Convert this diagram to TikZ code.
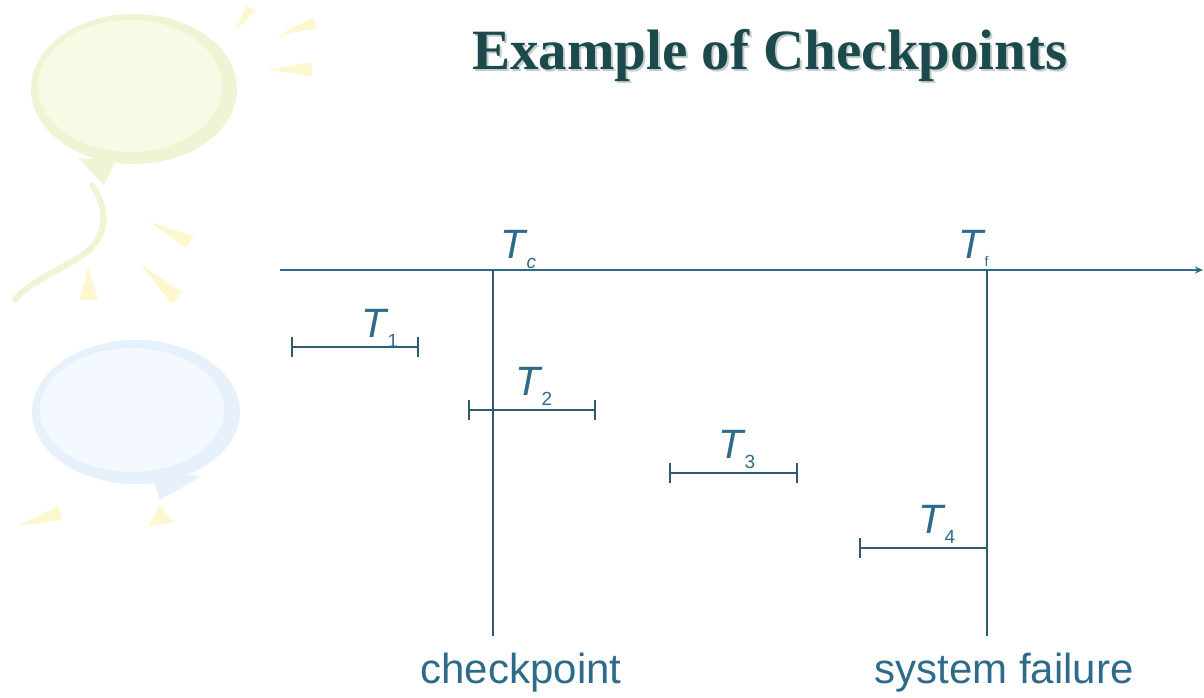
\documentclass[tikz,border=0pt]{standalone}
\usepackage{fontspec}
\setmainfont{Liberation Sans}
\newfontfamily\titlefont{Liberation Serif}
\usetikzlibrary{arrows.meta}

\definecolor{inkblue}{HTML}{2E6B8A}
\definecolor{barink}{HTML}{2C5C6E}
\definecolor{titleink}{HTML}{1C4A4C}
\definecolor{titleshade}{HTML}{C4CECE}
\definecolor{greenfill}{HTML}{F6FBE6}
\definecolor{greenrim}{HTML}{EDF5D4}
\definecolor{bluefill}{HTML}{F3F9FE}
\definecolor{bluerim}{HTML}{E7F1FB}
\definecolor{rayyellow}{HTML}{FCF7CE}

% italic T with a lowered upright index
\newcommand{\tlabel}[1]{\textit{T}\kern-1pt\raisebox{-10pt}{\fontsize{19}{19}\selectfont #1}}

\tikzset{
  axisline/.style={draw=inkblue, line width=1.7pt},
  markline/.style={draw=barink, line width=1.3pt},
  spanbar/.style={draw=barink, line width=1.3pt},
  spantick/.style={draw=barink, line width=1.3pt},
  tname/.style={text=inkblue, font=\fontsize{41}{41}\selectfont, inner sep=0pt, anchor=base west},
  bottomlabel/.style={text=inkblue, font=\fontsize{42}{42}\selectfont, inner sep=0pt, anchor=base},
  ray/.style={fill=rayyellow},
}

\begin{document}
\begin{tikzpicture}[x=1pt, y=-1pt]
\useasboundingbox (0,0) rectangle (1204,698);

% --- faint balloon decoration on the left ---
\fill[greenrim] (134,89) ellipse [x radius=103, y radius=75];
\fill[greenfill] (130,86) ellipse [x radius=92, y radius=66];
\fill[greenrim] (78,158) -- (116,160) -- (104,185) -- cycle;
\draw[greenrim, line width=6pt, line cap=round]
  (92,185) .. controls (110,212) and (108,240) .. (78,258)
           .. controls (50,275) and (25,285) .. (15,300);
\fill[bluerim] (136,412) ellipse [x radius=104, y radius=72];
\fill[bluefill] (132,410) ellipse [x radius=92, y radius=62];
\fill[bluerim] (150,470) -- (202,476) -- (160,500) -- cycle;

\fill[ray] (236,30) -- (246,6) -- (256,10) -- cycle;
\fill[ray] (278,36) -- (312,18) -- (318,28) -- cycle;
\fill[ray] (268,70) -- (312,62) -- (312,76) -- cycle;
\fill[ray] (150,222) -- (194,236) -- (186,248) -- cycle;
\fill[ray] (80,300) -- (88,266) -- (98,300) -- cycle;
\fill[ray] (140,264) -- (182,292) -- (172,304) -- cycle;
\fill[ray] (18,526) -- (58,506) -- (62,520) -- cycle;
\fill[ray] (148,526) -- (160,506) -- (174,522) -- cycle;

% --- title with its drop shade ---
\node[text=titleshade, font=\titlefont\bfseries\fontsize{57}{57}\selectfont, inner sep=0pt, anchor=base]
  (titleshadow) at (772,72) {Example of Checkpoints};
\node[text=titleink, font=\titlefont\bfseries\fontsize{57}{57}\selectfont, inner sep=0pt, anchor=base]
  (title) at (770,70) {Example of Checkpoints};

% --- time axis ---
\coordinate (axisstart) at (280,270);
\coordinate (axisend) at (1203,270);
\draw[axisline, -{Stealth[length=8pt, width=7pt]}] (axisstart) -- (axisend);

% --- checkpoint and failure instants ---
\coordinate (tctop) at (493,270);
\coordinate (tcbottom) at (493,636);
\coordinate (tftop) at (987,270);
\coordinate (tfbottom) at (987,636);
\draw[markline] (tctop) -- (tcbottom);
\draw[markline] (tftop) -- (tfbottom);

\node[tname] (tc) at (500,258) {\tlabel{\textit{c}}};
\node[tname] (tf) at (958,258) {\textit{T}\kern-1pt\raisebox{-8pt}{\fontsize{14}{14}\selectfont f}};

\node[bottomlabel] (cplabel) at (521,683) {checkpoint};
\node[bottomlabel] (sflabel) at (1004,683) {system failure};

% --- transactions ---
\coordinate (t1a) at (292,347);  \coordinate (t1b) at (418,347);
\coordinate (t2a) at (469,410);  \coordinate (t2b) at (595,410);
\coordinate (t3a) at (670,473);  \coordinate (t3b) at (797,473);
\coordinate (t4a) at (860,548);  \coordinate (t4b) at (987,548);

\foreach \a/\b in {t1a/t1b, t2a/t2b, t3a/t3b, t4a/t4b}{
  \draw[spanbar] (\a) -- (\b);
  \draw[spantick] ([yshift=-10pt]\a) -- ([yshift=10pt]\a);
  \draw[spantick] ([yshift=-10pt]\b) -- ([yshift=10pt]\b);
}

\node[tname] (t1) at (361,337) {\tlabel{1}};
\node[tname] (t2) at (515,395) {\tlabel{2}};
\node[tname] (t3) at (718,458) {\tlabel{3}};
\node[tname] (t4) at (918,533) {\tlabel{4}};
\end{tikzpicture}
\end{document}
